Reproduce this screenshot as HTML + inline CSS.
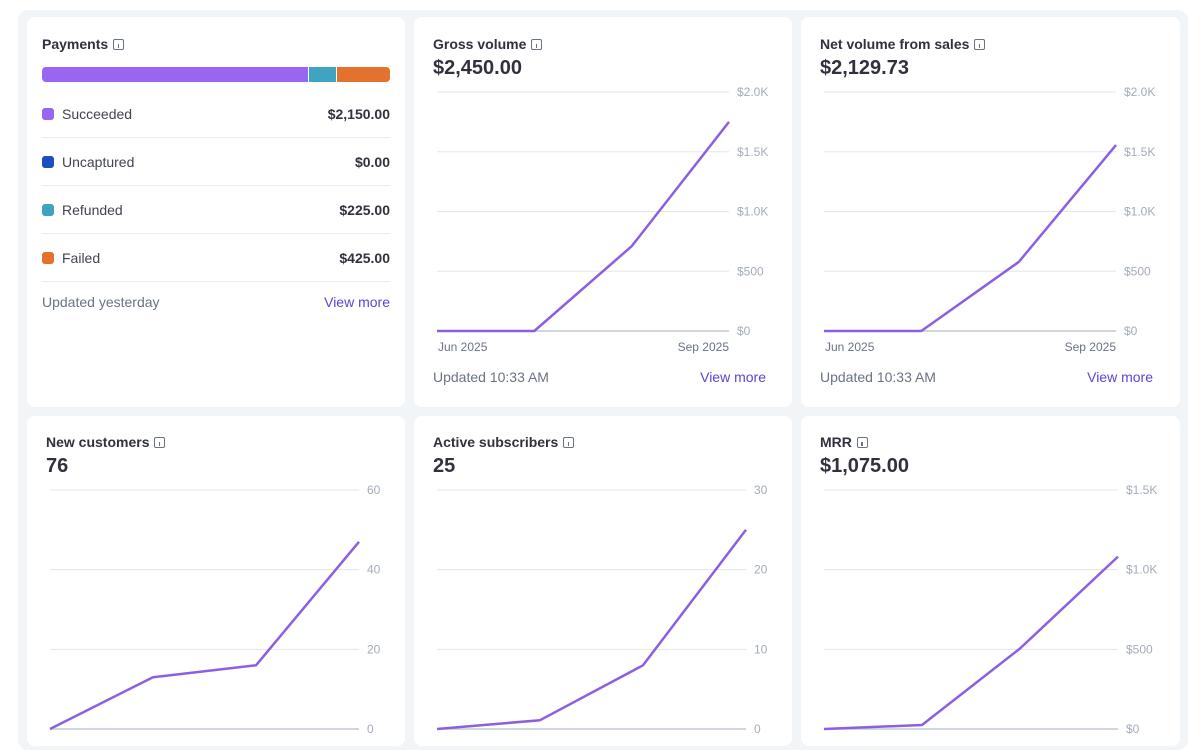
<!DOCTYPE html>
<html><head><meta charset="utf-8">
<style>
*{box-sizing:border-box;margin:0;padding:0}
body{width:1200px;height:735px;overflow:hidden;background:#fff;font-family:"Liberation Sans",sans-serif;position:relative;color:#30313d}
.wrap{position:absolute;left:18px;top:10px;width:1170px;height:740px;background:#f2f5f7;border-radius:10px}
.card{position:absolute;background:#fff;border-radius:8px}
.t{position:absolute;font-size:14px;font-weight:bold;color:#30313d;white-space:nowrap}
.info{display:inline-block;width:11px;height:11px;border:1.3px solid #6a7383;border-radius:2px;margin-left:5px;vertical-align:-1px;position:relative}
.info:after{content:"";position:absolute;left:3.5px;top:3.5px;width:1.4px;height:4px;background:#6a7383}
.big{position:absolute;font-size:20px;font-weight:bold;color:#30313d}
.abs{position:absolute;white-space:nowrap}
.upd{font-size:14px;color:#6a7383}
.vm{font-size:14px;color:#5b45d6}
.row{position:absolute;left:42px;width:348px;height:48px;border-bottom:1px solid #ebeef1;font-size:14px}
.dot{position:absolute;left:0;width:12px;height:12px;border-radius:3px;top:18px}
.lbl{position:absolute;left:20px;top:16px;color:#414552}
.amt{position:absolute;right:0;top:16px;font-weight:bold;color:#30313d}
svg{position:absolute;left:0;top:0;overflow:visible}
</style></head><body>
<div class="wrap"></div>

<div class="card" style="left:27px;top:17px;width:378px;height:390px"></div>
<div class="card" style="left:414px;top:17px;width:378px;height:390px"></div>
<div class="card" style="left:801px;top:17px;width:379px;height:390px"></div>
<div class="card" style="left:27px;top:416px;width:378px;height:330px"></div>
<div class="card" style="left:414px;top:416px;width:378px;height:330px"></div>
<div class="card" style="left:801px;top:416px;width:379px;height:330px"></div>

<!-- Payments -->
<div class="t" style="left:42px;top:36px">Payments<span class="info"></span></div>
<div class="abs" style="left:42px;top:67px;width:266px;height:15px;background:#9966f2;border-radius:4px 0 0 4px"></div>
<div class="abs" style="left:309px;top:67px;width:27px;height:15px;background:#3fa3c2"></div>
<div class="abs" style="left:337px;top:67px;width:53px;height:15px;background:#e2722e;border-radius:0 4px 4px 0"></div>
<div class="row" style="top:90px"><div class="dot" style="background:#9966f2"></div><span class="lbl">Succeeded</span><span class="amt">$2,150.00</span></div>
<div class="row" style="top:138px"><div class="dot" style="background:#1a4fc0"></div><span class="lbl">Uncaptured</span><span class="amt">$0.00</span></div>
<div class="row" style="top:186px"><div class="dot" style="background:#3fa3c2"></div><span class="lbl">Refunded</span><span class="amt">$225.00</span></div>
<div class="row" style="top:234px"><div class="dot" style="background:#e2722e"></div><span class="lbl">Failed</span><span class="amt">$425.00</span></div>
<div class="abs upd" style="left:42px;top:294px">Updated yesterday</div>
<div class="abs vm" style="right:810px;top:294px">View more</div>

<!-- Titles -->
<div class="t" style="left:433px;top:36px">Gross volume<span class="info"></span></div>
<div class="big" style="left:433px;top:57px">$2,450.00</div>
<div class="t" style="left:820px;top:36px">Net volume from sales<span class="info"></span></div>
<div class="big" style="left:820px;top:57px">$2,129.73</div>
<div class="abs upd" style="left:433px;top:369px">Updated 10:33 AM</div>
<div class="abs vm" style="right:434px;top:369px">View more</div>
<div class="abs upd" style="left:820px;top:369px">Updated 10:33 AM</div>
<div class="abs vm" style="right:47px;top:369px">View more</div>

<div class="t" style="left:46px;top:434px">New customers<span class="info"></span></div>
<div class="big" style="left:46px;top:455px">76</div>
<div class="t" style="left:433px;top:434px">Active subscribers<span class="info"></span></div>
<div class="big" style="left:433px;top:455px">25</div>
<div class="t" style="left:820px;top:434px">MRR<span class="info"></span></div>
<div class="big" style="left:820px;top:455px">$1,075.00</div>

<svg id="charts" width="1200" height="735"></svg>

<script>
const grossValues = [0, 0, 710, 1750];
const grossTicks = [0, 500, 1000, 1500, 2000];
const grossTickLabels = ["$0", "$500", "$1.0K", "$1.5K", "$2.0K"];
const netValues = [0, 0, 577, 1556];
const netTicks = [0, 500, 1000, 1500, 2000];
const netTickLabels = ["$0", "$500", "$1.0K", "$1.5K", "$2.0K"];
const customersValues = [0, 13, 16, 47];
const customersTicks = [0, 20, 40, 60];
const customersTickLabels = ["0", "20", "40", "60"];
const subscribersValues = [0, 1.1, 8, 25];
const subscribersTicks = [0, 10, 20, 30];
const subscribersTickLabels = ["0", "10", "20", "30"];
const mrrValues = [0, 25, 505, 1082];
const mrrTicks = [0, 500, 1000, 1500];
const mrrTickLabels = ["$0", "$500", "$1.0K", "$1.5K"];
const months = ["Jun 2025", "Jul 2025", "Aug 2025", "Sep 2025"];

const NS = "http://www.w3.org/2000/svg";
const svg = document.getElementById("charts");
function mk(tag, attrs){const e=document.createElementNS(NS,tag);for(const k in attrs)e.setAttribute(k,attrs[k]);svg.appendChild(e);return e;}

function chart(name, x0, x1, yTop, yBot, vals, ticks, labels, showX){
  const max = ticks[ticks.length-1];
  const xs = i => x0 + (x1-x0)*i/(vals.length-1);
  const ys = v => yBot - (yBot-yTop)*v/max;
  ticks.forEach((t,i)=>{
    const g = mk("line",{x1:x0,x2:x1,y1:ys(t),y2:ys(t),stroke:t===0?"#c0c8d2":"#e3e6ea","stroke-width":t===0?1.5:1});
    
    
    const tx = mk("text",{x:x1+8,y:ys(t)+4,"font-size":"12","fill":"#a3acb9","font-family":"Liberation Sans, sans-serif"});
    tx.textContent = labels[i];
    
    
  });
  if(showX){
    [0, vals.length-1].forEach(i=>{
      const tx = mk("text",{x:i===0?x0+1:x1,y:yBot+20,"font-size":"12","fill":"#6a7383","text-anchor":i===0?"start":"end","font-family":"Liberation Sans, sans-serif"});
      tx.textContent = months[i];
      
      
    });
  }
  const pts = vals.map((v,i)=>xs(i).toFixed(1)+","+ys(v).toFixed(1)).join(" ");
  const pl = mk("polyline",{points:pts,fill:"none",stroke:"#8c5fe0","stroke-width":2.5,"stroke-linejoin":"round"});
  
  
}
chart("gross-volume", 437, 729, 92, 331, grossValues, grossTicks, grossTickLabels, true);
chart("net-volume", 824, 1116, 92, 331, netValues, netTicks, netTickLabels, true);
chart("new-customers", 50, 359, 490, 729, customersValues, customersTicks, customersTickLabels, false);
chart("active-subscribers", 437, 746, 490, 729, subscribersValues, subscribersTicks, subscribersTickLabels, false);
chart("mrr", 824, 1118, 490, 729, mrrValues, mrrTicks, mrrTickLabels, false);
</script>
</body></html>
